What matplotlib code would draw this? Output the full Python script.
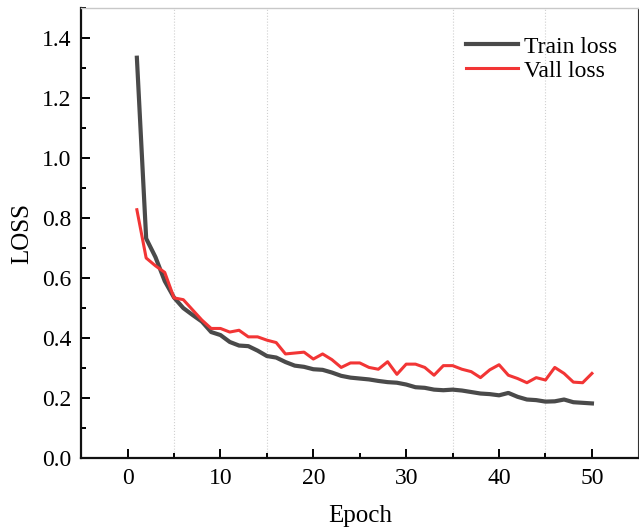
import matplotlib
matplotlib.use("Agg")
import matplotlib.pyplot as plt
from matplotlib.ticker import MultipleLocator, FixedLocator

epochs = list(range(1, 51))
train_loss = [1.335, 0.732, 0.670, 0.590, 0.535, 0.500, 0.477, 0.455, 0.420, 0.410,
              0.387, 0.375, 0.373, 0.358, 0.340, 0.335, 0.320, 0.308, 0.304, 0.296,
              0.294, 0.285, 0.274, 0.268, 0.265, 0.262, 0.257, 0.253, 0.251, 0.245,
              0.236, 0.234, 0.228, 0.226, 0.228, 0.225, 0.220, 0.215, 0.213, 0.209,
              0.217, 0.204, 0.195, 0.193, 0.188, 0.189, 0.195, 0.186, 0.184, 0.182]
val_loss = [0.828, 0.667, 0.641, 0.619, 0.534, 0.528, 0.494, 0.460, 0.432, 0.432,
            0.420, 0.426, 0.404, 0.404, 0.393, 0.385, 0.347, 0.350, 0.353, 0.330,
            0.347, 0.328, 0.302, 0.317, 0.317, 0.302, 0.296, 0.321, 0.279, 0.313,
            0.313, 0.302, 0.276, 0.308, 0.308, 0.296, 0.288, 0.268, 0.294, 0.311,
            0.276, 0.265, 0.251, 0.268, 0.260, 0.302, 0.282, 0.253, 0.251, 0.282]
grid_x = [5, 15, 35, 45]

plt.rcParams['font.family'] = ['Liberation Serif', 'DejaVu Serif']

fig = plt.figure(figsize=(6.39, 5.31), dpi=100)
ax = fig.add_axes([0.127, 0.1375, 0.872, 0.847])

for gx in grid_x:
    ax.axvline(gx, color='#d0d0d0', lw=0.8, ls=':', zorder=0)

ax.plot(epochs, train_loss, color='#4a4a4a', lw=3.0, label='Train loss')
ax.plot(epochs, val_loss, color='#f23535', lw=2.2, label='Vall loss')

ax.set_xlim(-5, 55)
ax.set_ylim(0, 1.5)
ax.xaxis.set_major_locator(FixedLocator([0, 10, 20, 30, 40, 50]))
ax.xaxis.set_minor_locator(FixedLocator([5, 15, 25, 35, 45]))
ax.yaxis.set_major_locator(MultipleLocator(0.2))
ax.yaxis.set_minor_locator(MultipleLocator(0.1))
ax.set_yticks([0, 0.2, 0.4, 0.6, 0.8, 1.0, 1.2, 1.4])
ax.set_yticklabels(['0.0', '0.2', '0.4', '0.6', '0.8', '1.0', '1.2', '1.4'])

ax.tick_params(which='both', direction='in', labelsize=17, width=1.4)
ax.tick_params(which='major', length=6.5, pad=7)
ax.tick_params(which='minor', length=3.5)
ax.tick_params(top=False, right=False)

for s in ['left', 'bottom']:
    ax.spines[s].set_linewidth(1.6)
    ax.spines[s].set_color('#111111')
ax.spines['top'].set_color('#c8c8c8')
ax.spines['top'].set_linewidth(1.0)
ax.spines['right'].set_color('#333333')

ax.set_xlabel('Epoch', fontsize=18, labelpad=12)
ax.set_ylabel('LOSS', fontsize=18, labelpad=6)

leg = ax.legend(loc='upper right', bbox_to_anchor=(1.0, 0.985), frameon=False,
                fontsize=17, handlelength=2.2, handletextpad=0.25, labelspacing=0.1)

fig.savefig('out.png', dpi=100)
